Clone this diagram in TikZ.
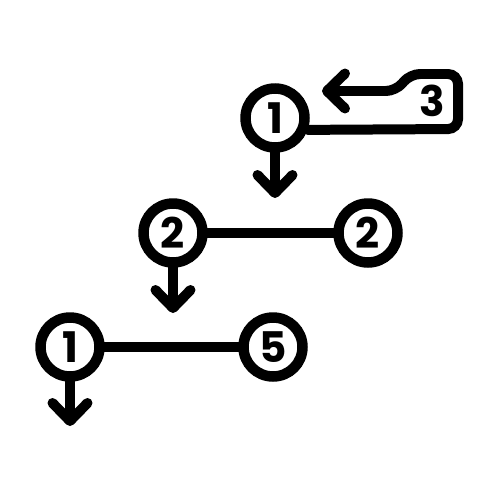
\documentclass[tikz,border=0pt]{standalone}
\usepackage{fontspec}
\setmainfont{Poppins}
\usetikzlibrary{arrows.meta}

\begin{document}
\begin{tikzpicture}[x=0.02cm,y=-0.02cm,
  numcirc/.style={circle, draw, line width=0.21cm, minimum size=1.18cm, inner sep=0pt,
    font=\fontsize{24}{24}\selectfont\bfseries},
  link/.style={line width=0.19cm, line cap=round},
  flow/.style={line width=0.2cm, line cap=round,
    -{Straight Barb[length=0.36cm,width=0.7cm,round]}}]
  \useasboundingbox (0,0) rectangle (500,500);

  % --------------------
  % Top step with loop
  % --------------------
  \node[numcirc] (top1) at (275,118) {1};
  \node[font=\fontsize{24}{24}\selectfont\bfseries] (loopnum) at (432,101) {3};
  \draw[flow, rounded corners=0.2cm] (top1.-20) -- (458,129) -- (458,74)
    -- (410,74) -- (396,91) -- (322,91);

  \coordinate (down1) at (275,198);
  \draw[flow] (top1.south) -- (down1);

  % --------------------
  % Middle step
  % --------------------
  \node[numcirc] (midA) at (173,233) {2};
  \node[numcirc] (midB) at (368,233) {2};
  \draw[link] (midA) -- (midB);

  \coordinate (down2) at (173,313);
  \draw[flow] (midA.south) -- (down2);

  % --------------------
  % Bottom step
  % --------------------
  \node[numcirc] (lowA) at (70,347) {1};
  \node[numcirc] (lowB) at (273,347) {5};
  \draw[link] (lowA) -- (lowB);

  \coordinate (down3) at (70,426);
  \draw[flow] (lowA.south) -- (down3);

\end{tikzpicture}
\end{document}
